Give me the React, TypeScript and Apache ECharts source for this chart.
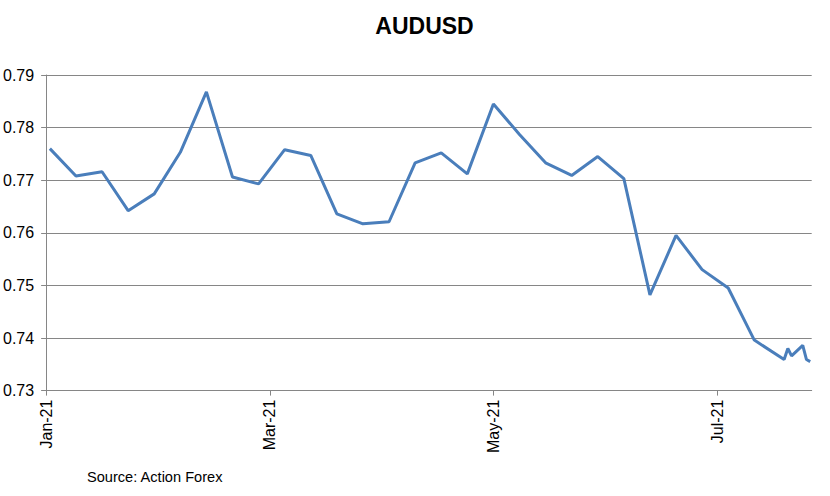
import React, { useEffect, useRef } from "react";
import * as echarts from "echarts";

const axisStart = "2021-01-03";
const dates = [
  "2021-01-04", "2021-01-11", "2021-01-18", "2021-01-25",
  "2021-02-01", "2021-02-08", "2021-02-15", "2021-02-22",
  "2021-03-01", "2021-03-08", "2021-03-15", "2021-03-22", "2021-03-29",
  "2021-04-05", "2021-04-12", "2021-04-19", "2021-04-26",
  "2021-05-03", "2021-05-10", "2021-05-17", "2021-05-24", "2021-05-31",
  "2021-06-07", "2021-06-14", "2021-06-21", "2021-06-28",
  "2021-07-05", "2021-07-12", "2021-07-20", "2021-07-21", "2021-07-22",
  "2021-07-25", "2021-07-26", "2021-07-27",
];
const values = [
  0.776, 0.7708, 0.7716, 0.7642,
  0.7674, 0.7753, 0.7868, 0.7706,
  0.7693, 0.7758, 0.7747, 0.7636, 0.7617,
  0.7621, 0.7733, 0.7752, 0.7712,
  0.7845, 0.7787, 0.7733, 0.7709, 0.7745,
  0.7703, 0.7482, 0.7595, 0.753,
  0.7495, 0.7396, 0.7359, 0.738, 0.7366,
  0.7386, 0.7359, 0.7355,
];
const tickDays = [0, 60, 120, 180];
const monthNames = ["Jan", "Feb", "Mar", "Apr", "May", "Jun", "Jul", "Aug", "Sep", "Oct", "Nov", "Dec"];

const DAY = 86400000;
const startMs = Date.parse(axisStart + "T00:00:00Z");
const toDay = (d: string) => (Date.parse(d + "T00:00:00Z") - startMs) / DAY;
const fmt = (v: number) => {
  const d = new Date(startMs + Math.round(v) * DAY);
  return monthNames[d.getUTCMonth()] + "-" + String(d.getUTCFullYear()).slice(2);
};

export default function App() {
  const ref = useRef<HTMLDivElement>(null);
  useEffect(() => {
    if (!ref.current) return;
    const chart = echarts.init(ref.current, null, { renderer: "svg" });
    const font = "'Liberation Sans', Arial, sans-serif";
    chart.setOption({
      animation: false,
      backgroundColor: "#ffffff",
      textStyle: { fontFamily: font },
      graphic: [
        {
          type: "text",
          x: 424.5,
          y: 26,
          style: {
            text: "AUDUSD",
            fontFamily: font,
            fontSize: 23,
            fontWeight: "bold",
            fill: "#000",
            textAlign: "center",
            textVerticalAlign: "middle",
          },
        },
        {
          type: "text",
          x: 87,
          y: 477,
          style: {
            text: "Source: Action Forex",
            fontFamily: font,
            fontSize: 14.6,
            fill: "#000",
            textAlign: "left",
            textVerticalAlign: "middle",
          },
        },
      ],
      grid: { left: 46, top: 75, right: 18.3, bottom: 105.4, containLabel: false },
      xAxis: {
        type: "value",
        min: 0,
        max: 205.4,
        interval: 60,
        axisLine: { show: true, lineStyle: { color: "#868686", width: 1 } },
        axisTick: { show: true, length: 5, customValues: tickDays, lineStyle: { color: "#868686" } },
        axisLabel: {
          customValues: tickDays,
          rotate: 90,
          margin: 9,
          fontSize: 16,
          color: "#000",
          fontFamily: font,
          formatter: (v: number) => fmt(v),
        },
        splitLine: { show: false },
      },
      yAxis: {
        type: "value",
        min: 0.73,
        max: 0.79,
        interval: 0.01,
        axisLine: { show: true, lineStyle: { color: "#868686", width: 1 } },
        axisTick: { show: true, length: 5, lineStyle: { color: "#868686" } },
        axisLabel: {
          margin: 12,
          fontSize: 16,
          color: "#000",
          fontFamily: font,
          formatter: (v: number) => v.toFixed(2),
        },
        splitLine: { show: true, lineStyle: { color: "#868686", width: 1 } },
      },
      series: [
        {
          type: "line",
          data: dates.map((d, i) => [toDay(d), values[i]]),
          showSymbol: false,
          symbol: "none",
          lineStyle: { color: "#4A7EBB", width: 3 },
          itemStyle: { color: "#4A7EBB" },
        },
      ],
    });
    return () => chart.dispose();
  }, []);
  return (
    <div
      ref={ref}
      style={{ position: "fixed", left: 0, top: 0, width: 830, height: 496, background: "#fff" }}
    />
  );
}
